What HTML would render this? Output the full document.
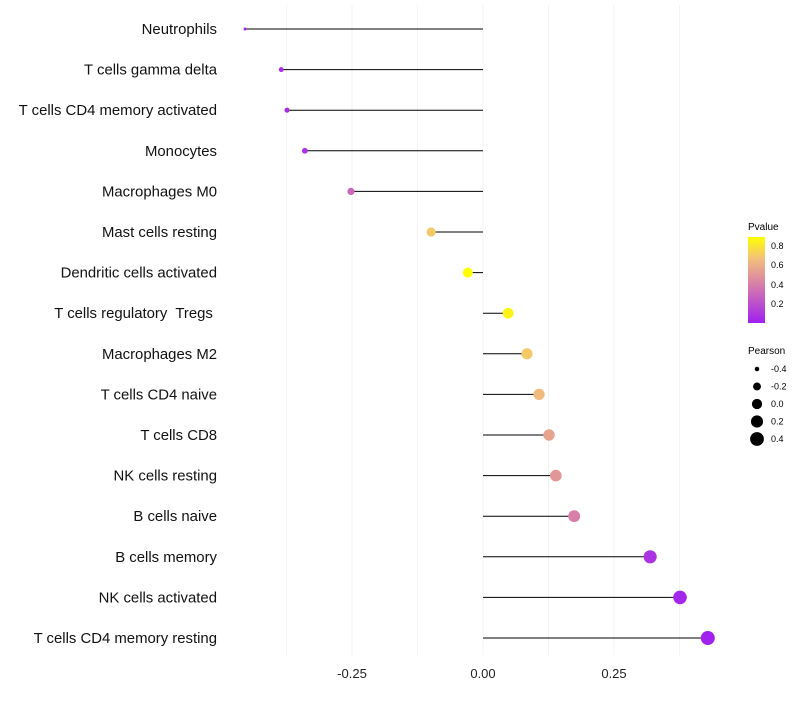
<!DOCTYPE html>
<html><head><meta charset="utf-8"><style>
body{margin:0;background:#fff;font-family:"Liberation Sans",sans-serif}
svg text{font-family:"Liberation Sans",sans-serif;white-space:pre}
</style></head><body>
<svg id="chart" width="800" height="700">
<defs><linearGradient id="pg" x1="0" y1="1" x2="0" y2="0">
<stop offset="0" stop-color="#a020f0"/><stop offset="0.45" stop-color="#d77fa8"/><stop offset="0.75" stop-color="#f2c07a"/><stop offset="1" stop-color="#ffff00"/></linearGradient></defs>
<g id="grid"></g><g id="marks"></g><g id="labels"></g>
<g>
<text x="748" y="230" font-size="10">Pvalue</text>
<rect x="748" y="237" width="17" height="86" fill="url(#pg)"/>
<text x="771" y="249" font-size="9">0.8</text><text x="771" y="268" font-size="9">0.6</text>
<text x="771" y="288" font-size="9">0.4</text><text x="771" y="307" font-size="9">0.2</text>
</g>
<g id="sleg">
<text x="748" y="354" font-size="10">Pearson</text>
</g>
</svg>
<script>
const categories=["Neutrophils","T cells gamma delta","T cells CD4 memory activated","Monocytes","Macrophages M0","Mast cells resting","Dendritic cells activated","T cells regulatory  Tregs ","Macrophages M2","T cells CD4 naive","T cells CD8","NK cells resting","B cells naive","B cells memory","NK cells activated","T cells CD4 memory resting"];
const pearson=[-0.454,-0.385,-0.374,-0.34,-0.252,-0.099,-0.029,0.048,0.084,0.107,0.126,0.139,0.174,0.319,0.376,0.429];
const pvalue=[0.02,0.05,0.05,0.08,0.3,0.7,0.89,0.85,0.7,0.65,0.55,0.5,0.4,0.08,0.03,0.01];
const xTicks=[-0.25,0,0.25];
const xTickLabels=["-0.25","0.00","0.25"];
const sizeLegend=[-0.4,-0.2,0.0,0.2,0.4];
const NS="http://www.w3.org/2000/svg";
const X=v=>483+v*524;
const Y=i=>29+i*40.6;
const R=v=>Math.sqrt(Math.max(1,2.25+52.9*(v+0.454)));
function lerp(a,b,t){return a.map((x,k)=>Math.round(x+(b[k]-x)*t));}
const stops=[[0,[160,32,240]],[0.45,[215,127,168]],[0.75,[242,192,122]],[1,[255,255,0]]];
function col(p){const t=Math.max(0,Math.min(1,p/0.89));for(let k=1;k<stops.length;k++){if(t<=stops[k][0]){const a=stops[k-1],b=stops[k];const c=lerp(a[1],b[1],(t-a[0])/(b[0]-a[0]));return`rgb(${c})`;}}return"rgb(255,255,0)";}
function mk(tag,at,parent){const e=document.createElementNS(NS,tag);for(const k in at)e.setAttribute(k,at[k]);parent.appendChild(e);return e;}
const grid=document.getElementById('grid'),marks=document.getElementById('marks'),labels=document.getElementById('labels');
[-0.375,-0.25,-0.125,0,0.125,0.25,0.375].forEach(v=>{const l=mk('line',{x1:X(v),x2:X(v),y1:5,y2:655,stroke:'#f3f3f3','stroke-width':1},grid);

});
xTicks.forEach((v,i)=>{const t=mk('text',{x:X(v),y:678,'font-size':13,'text-anchor':'middle',fill:'#222'},labels);t.textContent=xTickLabels[i];

});
categories.forEach((c,i)=>{const t=mk('text',{x:217,y:Y(i)+5,'font-size':14.9,'text-anchor':'end',fill:'#111'},labels);t.textContent=c;


const l=mk('line',{x1:X(0),x2:X(pearson[i]),y1:Y(i),y2:Y(i),stroke:'#000','stroke-width':1},marks);


const d=mk('circle',{cx:X(pearson[i]),cy:Y(i),r:R(pearson[i]),fill:col(pvalue[i])},marks);

});
const sl=document.getElementById('sleg');
sizeLegend.forEach((v,i)=>{const y=369+i*17.5;const c=mk('circle',{cx:757,cy:y,r:R(v),fill:'#000'},sl);


const t=mk('text',{x:771,y:y+3,'font-size':9},sl);t.textContent=v.toFixed(1);

});
</script>
</body></html>
